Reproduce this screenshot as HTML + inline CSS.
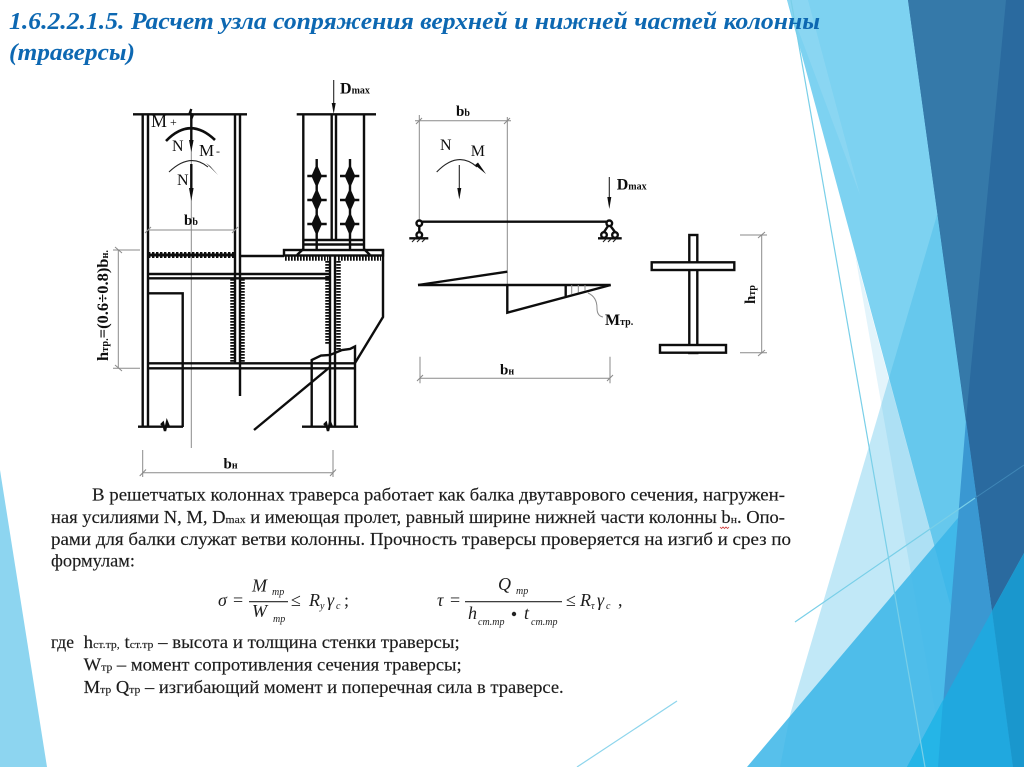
<!DOCTYPE html>
<html lang="ru">
<head>
<meta charset="utf-8">
<title>Расчет узла сопряжения</title>
<style>
html,body{margin:0;padding:0;background:#fff;width:1024px;height:767px;overflow:hidden}
svg{display:block}
text{font-family:"Liberation Serif","Noto Serif CJK SC",serif;fill:#1c1c1c}
.t{font-size:17.5px;stroke:#1c1c1c;stroke-width:.15px}
.s{font-size:11px}
.lb{font-size:16px;fill:#111}
.b{font-size:15px;font-weight:bold;fill:#111}
.bs{font-size:10px;font-weight:bold}
.f{font-size:18px;font-style:italic}
.fn{font-size:18px}
.fs{font-size:10px;font-style:italic}
.k{stroke:#111;stroke-width:2.4;fill:none}
.k3{stroke:#111;stroke-width:3;fill:none}
.g{stroke:#8a8a8a;stroke-width:1;fill:none}
.tn{stroke:#222;stroke-width:1.1;fill:none}
.w{stroke:#111;stroke-width:4.5;stroke-dasharray:1.7 1.3;fill:none}
</style>
</head>
<body>
<svg width="1024" height="767" viewBox="0 0 1024 767" xmlns="http://www.w3.org/2000/svg">
<defs><filter id="soft" x="0" y="0" width="100%" height="100%"><feGaussianBlur stdDeviation="0.35"/></filter></defs>
<rect width="1024" height="767" fill="#fff"/>

<!-- background shapes -->
<polygon points="0,470 47,767 0,767" fill="#8dd5f0"/>
<polygon points="787,0 908,0 1024,767 994,767" fill="#7dd2f1"/>
<polygon points="787,0 808,0 860,195" fill="#8ad6f2"/>
<polygon points="937,215 790,715 780,767 1024,767 1024,215" fill="rgb(50,180,230)" fill-opacity=".3"/>
<polygon points="855,254 994,767 945,767" fill="rgb(60,180,230)" fill-opacity=".14"/>
<polygon points="747,767 1024,440 1024,767" fill="rgb(58,181,232)" fill-opacity=".85"/>
<polygon points="908,0 1024,0 1024,553 992,611" fill="#2a6a9f"/>
<polygon points="908,0 1006,0 966,420" fill="#3579a9"/>
<polygon points="966,420 992,611 1013,767 938,767" fill="#3a98d2"/>
<polygon points="907,767 992,611 1013,767" fill="#20a8df"/>
<polygon points="907,767 943,700 938,767" fill="#25b5e7"/>
<polygon points="992,611 1024,553 1024,767 1013,767" fill="#1a97cd"/>
<line x1="791" y1="0" x2="925" y2="767" stroke="#79cfe8" stroke-width="1.2"/>
<line x1="795" y1="622" x2="975" y2="498" stroke="#79cfe8" stroke-width="1.2"/>
<line x1="975" y1="498" x2="1024" y2="465" stroke="#3f86b6" stroke-width="1"/>
<line x1="677" y1="701" x2="577" y2="767" stroke="#8dd5ec" stroke-width="1.2"/>

<g filter="url(#soft)">
<!-- title -->
<text x="9" y="29" textLength="811" lengthAdjust="spacingAndGlyphs" style="font-size:24px;font-weight:bold;font-style:italic;fill:#0b67b2">1.6.2.2.1.5. Расчет узла сопряжения верхней и нижней частей колонны</text>
<text x="9" y="60" textLength="126" lengthAdjust="spacingAndGlyphs" style="font-size:24px;font-weight:bold;font-style:italic;fill:#0b67b2">(траверсы)</text>

<!-- LEFT DRAWING -->
<line class="g" x1="191.3" y1="110" x2="191.3" y2="448"/>
<!-- left upper column -->
<line class="k" x1="133" y1="114.3" x2="247" y2="114.3"/>
<line class="k" x1="142.7" y1="114" x2="142.7" y2="427"/>
<line class="k" x1="148" y1="114" x2="148" y2="427"/>
<line class="k" x1="235" y1="114" x2="235" y2="363"/>
<line class="k" x1="240" y1="114" x2="240" y2="396"/>
<!-- force symbols -->
<path class="k" d="M191.3 109 l-1.5 4 l3 2 l-1.5 4"/>
<path d="M166 141 Q190 116 215 140" stroke="#111" stroke-width="2.6" fill="none"/>
<line class="k" x1="191.3" y1="114" x2="191.3" y2="146"/>
<polygon points="189,140 193.6,140 191.3,152" fill="#111"/>
<path class="tn" d="M169 172 Q190 152 208 167"/>
<polygon points="206,163 210,166 218,175" fill="#111"/>
<line class="k" x1="191.3" y1="164" x2="191.3" y2="192"/>
<polygon points="189,188 193.6,188 191.3,201" fill="#111"/>
<text class="lb" x="151" y="127" style="font-size:18px">M</text><text class="lb" x="170" y="126" style="font-size:12px">+</text>
<text class="lb" x="172" y="151">N</text>
<text class="lb" x="199" y="156" style="font-size:17px">M</text><text class="lb" x="216" y="155" style="font-size:12px">-</text>
<text class="lb" x="177" y="185">N</text>
<text class="b" x="184" y="225">b<tspan class="bs">b</tspan></text>
<line class="g" x1="148" y1="230" x2="235" y2="230"/>
<line class="g" x1="145" y1="233" x2="151" y2="227"/>
<line class="g" x1="232" y1="233" x2="238" y2="227"/>
<!-- horizontal members -->
<line class="k3" x1="148" y1="255" x2="235" y2="255"/>
<line class="w" x1="148" y1="255" x2="235" y2="255" style="stroke-dasharray:2.4 1.6;stroke-width:6"/>
<line class="k" x1="240" y1="256" x2="284" y2="256"/>
<line class="k" x1="148" y1="274" x2="330" y2="274"/>
<line class="k" x1="148" y1="278.3" x2="330" y2="278.3"/>
<path class="k" d="M148 293.3 H182.7 V427"/>
<line class="k" x1="148" y1="363.3" x2="355" y2="363.3"/>
<line class="k" x1="148" y1="368.3" x2="355" y2="368.3"/>
<line class="k" x1="138" y1="426.7" x2="183" y2="426.7"/>
<path class="k" d="M161 425 l2 -2 l2 8 l2 -9 l2 5" />
<!-- welds -->
<line class="w" x1="232.5" y1="279" x2="232.5" y2="362"/>
<line class="w" x1="242.5" y1="279" x2="242.5" y2="362"/>
<line class="w" x1="327.5" y1="261" x2="327.5" y2="345"/>
<line class="w" x1="338.5" y1="261" x2="338.5" y2="352"/>
<!-- right web and branch -->
<line class="k" x1="330" y1="255" x2="330" y2="427"/>
<line class="k" x1="335" y1="255" x2="335" y2="427"/>
<path class="k" d="M311.7 427 V360 L321 355.5 L330 355 L342 350 L350 349 L355 346.5 V427"/>
<line class="k" x1="302" y1="426.7" x2="358" y2="426.7"/>
<path class="k" d="M324 425 l2 -2 l2 8 l2 -9 l2 5"/>
<line class="k" x1="330" y1="367" x2="254" y2="430"/>
<path class="k" d="M383 250 V317 L355 363"/>
<!-- base plate -->
<rect class="k" x="284" y="250" width="99" height="5.5"/>
<line class="w" x1="285" y1="258.5" x2="328" y2="258.5"/>
<line class="w" x1="338" y1="258.5" x2="381" y2="258.5"/>
<path class="k" d="M297 255 L303.3 249 M370 255 L364 249"/>
<!-- right upper column -->
<line class="k" x1="296.7" y1="114.3" x2="376" y2="114.3"/>
<line class="k" x1="303.3" y1="114" x2="303.3" y2="250"/>
<line class="k" x1="364" y1="114" x2="364" y2="250"/>
<line class="k" x1="331.7" y1="114" x2="331.7" y2="240"/>
<line class="k" x1="336" y1="114" x2="336" y2="240"/>
<line class="k" x1="303" y1="240" x2="364" y2="240"/>
<line class="k" x1="303" y1="244.5" x2="364" y2="244.5"/>
<line class="tn" x1="333.7" y1="80" x2="333.7" y2="106"/>
<polygon points="331.7,103 335.7,103 333.7,114" fill="#111"/>
<text class="b" x="340" y="93.5" style="font-size:16px">D<tspan class="bs" dy="0">max</tspan></text>
<!-- bolts -->
<line class="k" x1="316.7" y1="159" x2="316.7" y2="250"/>
<line class="k" x1="350" y1="159" x2="350" y2="250"/>
<path class="k" d="M307.3 176 H326.7 M307.3 200 H326.7 M307.3 224 H326.7 M340 176 H359.3 M340 200 H359.3 M340 224 H359.3"/>
<polygon points="316.7,164 322,176 316.7,188 311.4,176" fill="#111"/>
<polygon points="316.7,188 322,200 316.7,212 311.4,200" fill="#111"/>
<polygon points="316.7,212 322,224 316.7,236 311.4,224" fill="#111"/>
<polygon points="350,164 355.3,176 350,188 344.7,176" fill="#111"/>
<polygon points="350,188 355.3,200 350,212 344.7,200" fill="#111"/>
<polygon points="350,212 355.3,224 350,236 344.7,224" fill="#111"/>
<!-- left dimension -->
<line class="g" x1="118.3" y1="250" x2="118.3" y2="368.3"/>
<line class="g" x1="113" y1="250" x2="140" y2="250"/>
<line class="g" x1="113" y1="368.3" x2="140" y2="368.3"/>
<line class="g" x1="115" y1="247" x2="122" y2="253"/>
<line class="g" x1="115" y1="365" x2="122" y2="371"/>
<text class="b" transform="translate(108,361) rotate(-90)" textLength="111" lengthAdjust="spacingAndGlyphs" style="font-size:16px">h<tspan class="bs">тр.</tspan>=(0.6÷0.8)b<tspan class="bs">н.</tspan></text>
<!-- bottom dimension -->
<line class="g" x1="142.7" y1="472.7" x2="333" y2="472.7"/>
<line class="g" x1="142.7" y1="450" x2="142.7" y2="477"/>
<line class="g" x1="333" y1="450" x2="333" y2="477"/>
<line class="g" x1="139.7" y1="476" x2="146" y2="469.5"/>
<line class="g" x1="330" y1="476" x2="336" y2="469.5"/>
<text class="b" x="223.5" y="468.3">b<tspan class="bs">н</tspan></text>

<!-- BEAM SCHEME -->
<line class="g" x1="415" y1="120.7" x2="511" y2="120.7"/>
<line class="g" x1="419.3" y1="115" x2="419.3" y2="221"/>
<line class="g" x1="507.3" y1="117" x2="507.3" y2="285"/>
<line class="g" x1="416" y1="124" x2="422" y2="118"/>
<line class="g" x1="504" y1="124" x2="510" y2="118"/>
<text class="b" x="456" y="116">b<tspan class="bs">b</tspan></text>
<text class="lb" x="440" y="150">N</text>
<text class="lb" x="470.7" y="156">M</text>
<path class="tn" d="M436.7 172 Q458 150 477 167"/>
<polygon points="475,165 478,162.5 486,174" fill="#111"/>
<line class="tn" x1="459.3" y1="165" x2="459.3" y2="192"/>
<polygon points="457.3,188 461.3,188 459.3,199.5" fill="#111"/>
<line class="k" x1="419.3" y1="221.7" x2="609.3" y2="221.7"/>
<!-- left support -->
<circle cx="419.3" cy="223.3" r="2.8" class="k" style="fill:#fff"/>
<circle cx="419.3" cy="235" r="2.8" class="k" style="fill:#fff"/>
<line class="k" x1="419.3" y1="226" x2="419.3" y2="232"/>
<line class="k" x1="409.3" y1="238.3" x2="428.3" y2="238.3"/>
<path class="tn" d="M412 242 l3 -3 M417 242 l3 -3 M422 242 l3 -3"/>
<!-- right support -->
<circle cx="609.3" cy="223.3" r="2.8" class="k" style="fill:#fff"/>
<circle cx="604" cy="235" r="2.8" class="k" style="fill:#fff"/>
<circle cx="615" cy="235" r="2.8" class="k" style="fill:#fff"/>
<path class="k" d="M608 226 L604 232 M610.5 226 L615 232"/>
<line class="k" x1="598" y1="238.3" x2="621.7" y2="238.3"/>
<path class="tn" d="M603 242 l3 -3 M608 242 l3 -3 M613 242 l3 -3"/>
<line class="tn" x1="609.3" y1="177" x2="609.3" y2="200"/>
<polygon points="607.3,197 611.3,197 609.3,209" fill="#111"/>
<text class="b" x="616.7" y="189.5" style="font-size:16px">D<tspan class="bs">max</tspan></text>
<!-- moment diagram -->
<line class="k" x1="418" y1="285" x2="610.7" y2="285"/>
<line class="k" x1="418" y1="285" x2="507.3" y2="271.7"/>
<path class="k" d="M507.3 285 V312.7 L610.7 285"/>
<line class="k" x1="565.7" y1="285" x2="565.7" y2="296"/>
<path class="g" d="M571.7 285 V294 M578.3 285 V292.5 M585 285 V291"/>
<path class="g" d="M588 293 Q597 297 597 308 Q597 316 603 317"/>
<text class="b" x="605" y="325" style="font-size:16px">M<tspan class="bs">тр.</tspan></text>
<line class="g" x1="420" y1="378.3" x2="610" y2="378.3"/>
<line class="g" x1="420" y1="356.7" x2="420" y2="383.3"/>
<line class="g" x1="610" y1="356.7" x2="610" y2="383.3"/>
<line class="g" x1="417" y1="381" x2="423" y2="375"/>
<line class="g" x1="607" y1="381" x2="613" y2="375"/>
<text class="b" x="500" y="374.3">b<tspan class="bs">н</tspan></text>

<!-- I section -->
<rect class="k" x="689.3" y="235" width="8" height="118" style="fill:#fff"/>
<rect class="k" x="651.7" y="262.3" width="82.6" height="7.7" style="fill:#fff"/>
<rect class="k" x="660" y="345" width="66" height="7.7" style="fill:#fff"/>
<line class="g" x1="761.7" y1="235" x2="761.7" y2="352.7"/>
<line class="g" x1="740" y1="235" x2="767" y2="235"/>
<line class="g" x1="740" y1="352.7" x2="767" y2="352.7"/>
<line class="g" x1="758" y1="238" x2="765" y2="232"/>
<line class="g" x1="758" y1="356" x2="765" y2="350"/>
<text class="b" transform="translate(755,304) rotate(-90)">h<tspan class="bs">тр</tspan></text>

<!-- paragraph -->
<text class="t" x="92" y="500.7" textLength="693" lengthAdjust="spacingAndGlyphs">В решетчатых  колоннах траверса работает как балка двутаврового сечения, нагружен-</text>
<text class="t" x="51" y="523" textLength="734" lengthAdjust="spacingAndGlyphs">ная усилиями N, M, D<tspan class="s">max</tspan> и имеющая пролет, равный ширине нижней части колонны b<tspan class="s">н</tspan>. Опо-</text>
<text class="t" x="51" y="545" textLength="740" lengthAdjust="spacingAndGlyphs">рами для балки служат ветви колонны. Прочность траверсы проверяется на изгиб и срез по</text>
<text class="t" x="51" y="566.7" textLength="84" lengthAdjust="spacingAndGlyphs">формулам:</text>
<path d="M720 527 l1.5 1.5 l1.5 -1.5 l1.5 1.5 l1.5 -1.5 l1.5 1.5 l1.5 -1.5" stroke="#d04040" stroke-width=".8" fill="none"/>

<!-- formula 1 -->
<text class="f" x="218" y="606">σ</text>
<text class="fn" x="233" y="606">=</text>
<text class="f" x="252" y="591.7">M</text><text class="fs" x="272" y="595">тр</text>
<line x1="249" y1="601.7" x2="288" y2="601.7" stroke="#222" stroke-width="1.2"/>
<text class="f" x="252" y="617">W</text><text class="fs" x="273" y="622">тр</text>
<text class="fn" x="291" y="606">≤</text>
<text class="f" x="309" y="606">R</text><text class="fs" x="320" y="609">y</text>
<text class="f" x="327" y="606">γ</text><text class="fs" x="336" y="609">c</text>
<text class="fn" x="344" y="606">;</text>
<!-- formula 2 -->
<text class="f" x="437" y="606">τ</text>
<text class="fn" x="450" y="606">=</text>
<text class="f" x="498" y="590">Q</text><text class="fs" x="516" y="594">тр</text>
<line x1="465" y1="601.7" x2="562" y2="601.7" stroke="#222" stroke-width="1.2"/>
<text class="f" x="468" y="619">h</text><text class="fs" x="478" y="625">ст.тр</text>
<circle cx="514" cy="614" r="2.2" fill="#222"/>
<text class="f" x="524" y="619">t</text><text class="fs" x="531" y="625">ст.тр</text>
<text class="fn" x="566" y="606">≤</text>
<text class="f" x="580" y="606">R</text><text class="fs" x="591" y="609">τ</text>
<text class="f" x="597" y="606">γ</text><text class="fs" x="606" y="609">c</text>
<text class="fn" x="618" y="606">,</text>

<!-- notation -->
<text class="t" x="51" y="648">где</text>
<text class="t" x="83.7" y="648" textLength="376" lengthAdjust="spacingAndGlyphs">h<tspan class="s">ст.тр,</tspan> t<tspan class="s">ст.тр</tspan> – высота и толщина стенки траверсы;</text>
<text class="t" x="83.7" y="670.7" textLength="378" lengthAdjust="spacingAndGlyphs">W<tspan class="s">тр</tspan> – момент сопротивления сечения траверсы;</text>
<text class="t" x="83.7" y="693" textLength="480" lengthAdjust="spacingAndGlyphs">M<tspan class="s">тр</tspan> Q<tspan class="s">тр</tspan> – изгибающий момент и поперечная сила в траверсе.</text>
</g>
</svg>
</body>
</html>
